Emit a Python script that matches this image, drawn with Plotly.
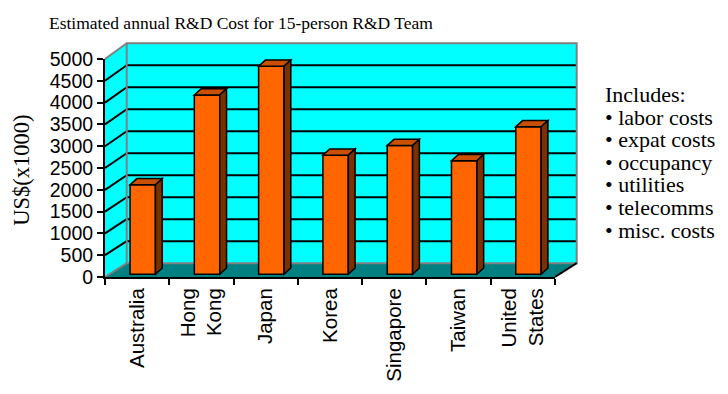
import plotly.graph_objects as go

# ---- data -------------------------------------------------------------
countries = ["Australia", "Hong<br>Kong", "Japan", "Korea", "Singapore", "Taiwan", "United<br>States"]
cost_k_usd = [2050, 4110, 4770, 2730, 2950, 2600, 3380]
y_tick_values = [0, 500, 1000, 1500, 2000, 2500, 3000, 3500, 4000, 4500, 5000]
includes_items = ["labor costs", "expat costs", "occupancy", "utilities", "telecomms", "misc. costs"]

title_text = "Estimated annual R&D Cost for 15-person R&D Team"
y_title = "US$(x1000)"
includes_heading = "Includes:"

# ---- layout geometry (pixels) ----------------------------------------
W, H = 728, 394
ML, MR, MT, MB = 105, 173, 59, 103
PW = W - ML - MR          # front plane width
PH = H - MT - MB          # front plane height
YMAX = y_tick_values[-1]

# back wall offset for the pseudo-3D box
WALL_DX = 21.7
WALL_DY_BOT = 14.7
WALL_DY_TOP = 16.7

# bar placement inside the box
BAR_W = 0.395             # in category units
BAR_SHIFT_X = 5.6         # px to the right of the front plane
BAR_SHIFT_Y = 3.0         # px above the front plane
BAR_DX = 6.8              # px depth of each bar
BAR_DY = 6.6

CYAN = "#00FFFF"
TEAL = "#008080"
GRAY = "#808080"
BAR_FRONT = "#FF6600"
BAR_TOP = "#C85000"
BAR_SIDE = "#7A3000"

SERIF = "Liberation Serif, Times New Roman"
SANS = "Liberation Sans, Arial"

n = len(countries)
cat_px = PW / n
unit_px = PH / YMAX


def px2paper(x, y):
    return (x - ML) / PW, (H - MB - y) / PH


bx0 = WALL_DX / PW
bx1 = 1 + WALL_DX / PW
by0 = WALL_DY_BOT / PH
by1 = 1 + WALL_DY_TOP / PH


def back_y(v):
    return by0 + (by1 - by0) * v / YMAX


shapes = []
# left side wall
shapes.append(dict(type="path", xref="paper", yref="paper", layer="below",
                   path=f"M0,0 L0,1 L{bx0},{by1} L{bx0},{by0} Z",
                   fillcolor=CYAN, line=dict(width=0)))
# back wall
shapes.append(dict(type="rect", xref="paper", yref="paper", layer="below",
                   x0=bx0, x1=bx1, y0=by0, y1=by1,
                   fillcolor=CYAN, line=dict(width=0)))
# floor
shapes.append(dict(type="path", xref="paper", yref="paper", layer="below",
                   path=f"M0,0 L1,0 L{bx1},{by0} L{bx0},{by0} Z",
                   fillcolor=TEAL, line=dict(width=0)))
# gridlines on back wall and side wall
for v in y_tick_values[1:-1]:
    shapes.append(dict(type="line", xref="paper", yref="paper", layer="below",
                       x0=bx0, x1=bx1, y0=back_y(v), y1=back_y(v),
                       line=dict(color="black", width=2)))
    shapes.append(dict(type="line", xref="paper", yref="paper", layer="below",
                       x0=0, x1=bx0, y0=v / YMAX, y1=back_y(v),
                       line=dict(color="black", width=2)))
# gray wall edges
gray_edge = dict(color=GRAY, width=2)
shapes.append(dict(type="rect", xref="paper", yref="paper", layer="below",
                   x0=bx0, x1=bx1, y0=by0, y1=by1, line=gray_edge))
shapes.append(dict(type="line", xref="paper", yref="paper", layer="below",
                   x0=0, y0=1, x1=bx0, y1=by1, line=gray_edge))
shapes.append(dict(type="line", xref="paper", yref="paper", layer="below",
                   x0=0, y0=0, x1=bx0, y1=by0, line=gray_edge))
# floor right edge
shapes.append(dict(type="line", xref="paper", yref="paper", layer="below",
                   x0=1, y0=0, x1=bx1, y1=by0, line=dict(color="black", width=2)))

# bar depth faces, in the bars' own axis units
ddx = BAR_DX / cat_px
ddy = BAR_DY / unit_px
for i, v in enumerate(cost_k_usd):
    xl, xr = i - BAR_W / 2, i + BAR_W / 2
    shapes.append(dict(type="path", xref="x2", yref="y2", layer="above",
                       path=f"M{xl},{v} L{xr},{v} L{xr + ddx},{v + ddy} L{xl + ddx},{v + ddy} Z",
                       fillcolor=BAR_TOP, line=dict(color="black", width=1.5)))
    shapes.append(dict(type="path", xref="x2", yref="y2", layer="above",
                       path=f"M{xr},0 L{xr + ddx},{ddy} L{xr + ddx},{v + ddy} L{xr},{v} Z",
                       fillcolor=BAR_SIDE, line=dict(color="black", width=1.5)))

fig = go.Figure()
# invisible trace keeps the category axis populated
fig.add_trace(go.Scatter(x=countries, y=[None] * n, mode="markers",
                         showlegend=False, hoverinfo="skip"))
fig.add_trace(go.Bar(x=list(range(n)), y=cost_k_usd, width=BAR_W,
                     xaxis="x2", yaxis="y2",
                     marker=dict(color=BAR_FRONT, line=dict(color="black", width=1.5)),
                     showlegend=False))

sx = BAR_SHIFT_X / cat_px
sy = BAR_SHIFT_Y / unit_px

fig.update_layout(
    width=W, height=H,
    margin=dict(l=ML, r=MR, t=MT, b=MB, pad=0),
    paper_bgcolor="white", plot_bgcolor="rgba(0,0,0,0)",
    showlegend=False,
    xaxis=dict(type="category", categoryorder="array", categoryarray=countries,
               range=[-0.5, n - 0.5], tickson="boundaries",
               ticks="outside", ticklen=6, tickwidth=2, tickcolor="black",
               ticklabelstandoff=1,
               showline=True, linecolor="black", linewidth=2,
               showgrid=False, zeroline=False, tickangle=-90,
               tickfont=dict(family=SANS, size=20.5, color="black")),
    yaxis=dict(range=[0, YMAX], tickvals=y_tick_values,
               ticks="outside", ticklen=6, tickwidth=2, tickcolor="black",
               showline=True, linecolor="black", linewidth=2,
               showgrid=False, zeroline=False,
               tickfont=dict(family=SANS, size=19.5, color="black")),
    xaxis2=dict(overlaying="x", range=[-0.5 - sx, n - 0.5 - sx], visible=False),
    yaxis2=dict(overlaying="y", range=[-sy, YMAX - sy], visible=False),
    shapes=shapes,
)

annotations = []
tx, ty = px2paper(241, 20.5)
annotations.append(dict(text=title_text, xref="paper", yref="paper", x=tx, y=ty,
                        xanchor="center", yanchor="middle", showarrow=False,
                        font=dict(family=SERIF, size=17.5, color="black")))
ax_, ay_ = px2paper(22, 178)
annotations.append(dict(text=y_title, xref="paper", yref="paper", x=ax_, y=ay_,
                        xanchor="center", yanchor="middle", showarrow=False, textangle=-90,
                        font=dict(family=SERIF, size=22.5, color="black")))

# side note: one text block; the base size sets the 1.3em line pitch,
# each line is drawn larger inside it
LINE_PITCH = 22.6
note_lines = [includes_heading] + ["\u2022 " + item for item in includes_items]
note_text = "<br>".join(f'<span style="font-size:22px">{s}</span>' for s in note_lines)
first_y = 101.7
last_y = first_y + LINE_PITCH * (len(note_lines) - 1)
lx, ly = px2paper(603, (first_y + last_y) / 2)
annotations.append(dict(text=note_text, xref="paper", yref="paper", x=lx, y=ly,
                        xanchor="left", yanchor="middle", align="left", showarrow=False,
                        font=dict(family=SERIF, size=LINE_PITCH / 1.3, color="black")))
fig.update_layout(annotations=annotations)

fig.write_html("out.html")
